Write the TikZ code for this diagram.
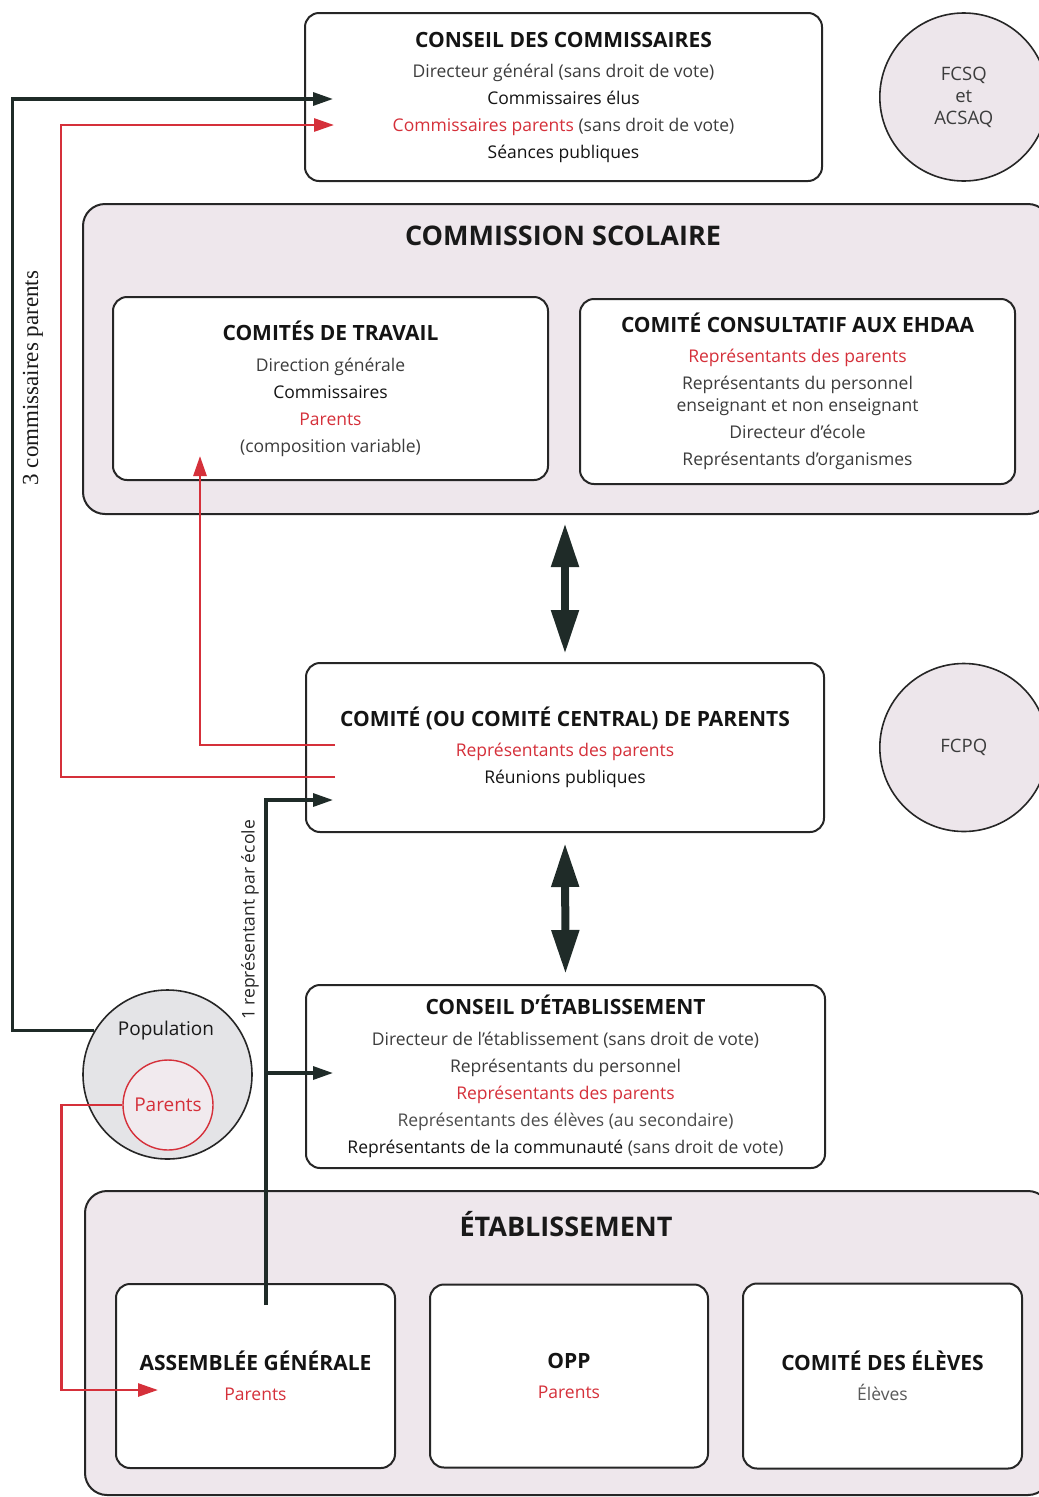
\documentclass[tikz,border=0pt]{standalone}
\usepackage{fontspec}
\setmainfont{Open Sans}
\newfontfamily\serifface{Liberation Serif}
\usetikzlibrary{positioning,arrows.meta}
\definecolor{rouge}{HTML}{D5303A}
\definecolor{encre}{HTML}{1F2B28}
\definecolor{zonefill}{HTML}{EEE7EC}
\definecolor{rondfill}{HTML}{EDE6EB}
\definecolor{popfill}{HTML}{E4E4E7}
\definecolor{parfill}{HTML}{F1EAEE}
\definecolor{gris}{HTML}{3C3C3C}
\newcommand\corps{\fontsize{17.5}{27}\selectfont}
\newcommand\titre[1]{{\bfseries\fontsize{21}{27}\selectfont #1}}
\newcommand\rg[1]{\textcolor{rouge}{#1}}
\newcommand\gr[1]{\textcolor{gris}{#1}}

\begin{document}
\begin{tikzpicture}[x=1pt,y=-1pt,
  box/.style={draw=black!85, line width=2pt, rounded corners=14pt, fill=white, align=center, font=\corps, text=black!92, inner sep=0pt},
  zone/.style={draw=black!85, line width=2pt, rounded corners=22pt, fill=zonefill, inner sep=0pt},
  rond/.style={circle, draw=black!85, line width=1.6pt, fill=rondfill, inner sep=0pt, minimum size=168pt, align=center, text=gris, font=\fontsize{18.5}{22}\selectfont},
  grand/.style={font=\bfseries\fontsize{27}{30}\selectfont, text=black!90},
  lien/.style={encre, line width=3.2pt, -{Triangle[length=20pt,width=13pt]}},
  lienr/.style={rouge, line width=2.8pt, -{Triangle[length=20pt,width=13pt]}},
  flux/.style={encre, line width=8pt, {Triangle[length=44pt,width=26pt]}-{Triangle[length=44pt,width=26pt]}},
]
  \useasboundingbox (0,0) rectangle (1039,1497);
  \clip (0,0) rectangle (1039,1497);

  \node (cc) [box, minimum width=517pt, minimum height=168pt] at (563.5,97)
    {\titre{CONSEIL DES COMMISSAIRES}\\[3pt]
     \gr{Directeur général (sans droit de vote)}\\
     Commissaires élus\\
     \rg{Commissaires parents} \gr{(sans droit de vote)}\\
     Séances publiques};
  \node (fcsq) [rond, right=56pt of cc] {FCSQ\\et\\ACSAQ};

  \node (cs) [zone, minimum width=967pt, minimum height=310pt] at (566.5,359) {};
  \node (cst) [grand] at (563,236) {COMMISSION SCOLAIRE};
  \node (ct) [box, minimum width=435pt, minimum height=183pt] at (330.5,388.5)
    {\titre{COMITÉS DE TRAVAIL}\\[4pt]
     \gr{Direction générale}\\
     Commissaires\\
     \rg{Parents}\\
     \gr{(composition variable)}};
  \node (ehdaa) [box, minimum width=435pt, minimum height=185pt] at (797.5,391.5)
    {\titre{COMITÉ CONSULTATIF AUX EHDAA}\\[3pt]
     \rg{Représentants des parents}\\
     \gr{Représentants du personnel}\\[-5pt]
     \gr{enseignant et non enseignant}\\
     \gr{Directeur d’école}\\
     \gr{Représentants d’organismes}};

  \node (cp) [box, minimum width=518pt, minimum height=169pt] at (565,747.5)
    {\titre{COMITÉ (OU COMITÉ CENTRAL) DE PARENTS}\\[3pt]
     \rg{Représentants des parents}\\
     Réunions publiques};
  \node (fcpq) [rond, right=54pt of cp] {FCPQ};

  \node (ce) [box, minimum width=519pt, minimum height=183pt] at (565.5,1076.5)
    {\titre{CONSEIL D’ÉTABLISSEMENT}\\[4pt]
     \gr{Directeur de l’établissement (sans droit de vote)}\\
     \gr{Représentants du personnel}\\
     \rg{Représentants des parents}\\
     \textcolor{black!70}{Représentants des élèves (au secondaire)}\\
     Représentants de la communauté \gr{(sans droit de vote)}};

  \node (pop) [rond, fill=popfill, minimum size=169pt] at (167.5,1074.5) {};
  \node (popt) [font=\fontsize{19}{22}\selectfont, text=black!90] at (166,1031) {Population};
  \node (par) [circle, draw=rouge, line width=1.4pt, fill=parfill, minimum size=90pt, inner sep=0pt, font=\fontsize{19}{22}\selectfont, text=rouge] at (168,1105) {Parents};

  \node (etab) [zone, minimum width=965pt, minimum height=304pt] at (567.5,1343) {};
  \node (etabt) [grand] at (566,1224) {ÉTABLISSEMENT};
  \node (ag) [box, minimum width=279pt, minimum height=184pt] at (255.5,1376)
    {\titre{ASSEMBLÉE GÉNÉRALE}\\[3pt] \rg{Parents}};
  \node (opp) [box, minimum width=278pt, minimum height=183pt, right=33pt of ag]
    {\titre{OPP}\\[3pt] \rg{Parents}};
  \node (elv) [box, minimum width=279pt, minimum height=185pt, right=33pt of opp]
    {\titre{COMITÉ DES ÉLÈVES}\\[3pt] \textcolor{black!65}{Élèves}};

  \coordinate (ccn) at (333,99);
  \coordinate (ccr) at (334,125);
  \coordinate (ctr) at (200,456);
  \coordinate (cpr) at (335,745);
  \coordinate (cpr2) at (335,777);
  \coordinate (cpn) at (333,800);
  \coordinate (cen) at (333,1073);
  \coordinate (bif) at (266,1073);
  \coordinate (agn) at (266,1305);
  \coordinate (agr) at (158,1390);

  \draw[lien] (pop.149) -- ++(-82,0) |- (ccn);
  \draw[lienr] (cpr2) -- ++(-274,0) |- (ccr);
  \draw[lienr] (cpr) -| (ctr);
  \draw[lien] (agn) |- (cpn);
  \draw[lien] (bif) -- (cen);
  \draw[lienr] (par.west) -- ++(-61,0) |- (agr);
  \draw[flux, shorten <=8pt, shorten >=8pt] (cp.north |- cs.south) -- (cp.north);
  \draw[flux, shorten <=10pt, shorten >=10pt] (cp.south) -- (ce.north);

  \node (l3) [rotate=90, font=\serifface\fontsize{23}{24}\selectfont, text=black!90] at (33,378) {3 commissaires parents};
  \node (l1) [rotate=90, font=\fontsize{17.5}{20}\selectfont, text=black!85] at (250,920) {1 représentant par école};
\end{tikzpicture}
\end{document}
